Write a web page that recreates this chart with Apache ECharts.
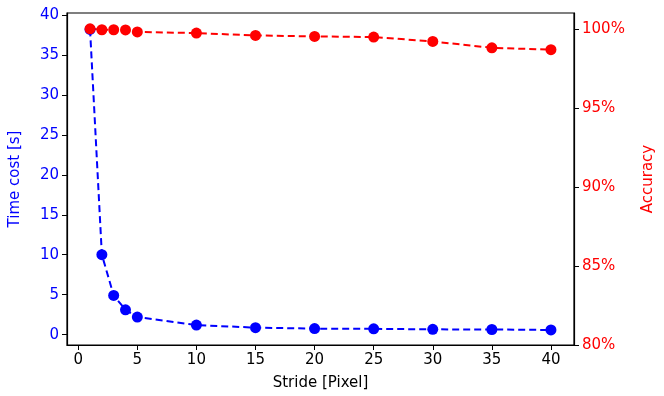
<!DOCTYPE html>
<html>
<head>
<meta charset="utf-8">
<script src="https://cdn.jsdelivr.net/npm/echarts@6/dist/echarts.min.js"></script>
<style>
  html, body { margin: 0; padding: 0; background: #fff; }
  #chart { width: 664px; height: 396px; }
</style>
</head>
<body>
<div id="chart"></div>
<script>
// Data
const strides = [1, 2, 3, 4, 5, 10, 15, 20, 25, 30, 35, 40]
const timeCost = [38.2, 10.0, 4.9, 3.1, 2.2, 1.2, 0.87, 0.75, 0.72, 0.66, 0.64, 0.58]
const accuracy = [1.0, 0.9994, 0.9994, 0.9993, 0.998, 0.9973, 0.9958, 0.9952, 0.9948, 0.992, 0.988, 0.9868]

const xTicks = [0, 5, 10, 15, 20, 25, 30, 35, 40]
const timeTicks = [0, 5, 10, 15, 20, 25, 30, 35, 40]
const accTicks = [0.80, 0.85, 0.90, 0.95, 1.00]

const font = 'DejaVu Sans'
const blue = '#0000ff'
const red = '#ff0000'

const chart = echarts.init(document.getElementById('chart'))

chart.setOption({
  backgroundColor: '#fff',
  animation: false,
  textStyle: { fontFamily: font },
  grid: {
    left: 67,
    right: 83,
    top: 13,
    bottom: 49,
    show: true,
    borderColor: '#000',
    borderWidth: 1.2,
    backgroundColor: 'transparent'
  },
  xAxis: {
    type: 'value',
    min: -0.95,
    max: 41.95,
    name: 'Stride [Pixel]',
    nameLocation: 'middle',
    nameGap: 31,
    nameTextStyle: { color: '#000', fontSize: 15, fontFamily: font },
    axisLine: { show: true, onZero: false, lineStyle: { color: '#000', width: 1.2 } },
    axisTick: { show: true, length: 5, customValues: xTicks, lineStyle: { color: '#000' } },
    axisLabel: { customValues: xTicks, color: '#000', fontSize: 15, margin: 8 },
    splitLine: { show: false }
  },
  yAxis: [
    {
      type: 'value',
      position: 'left',
      min: -1.3,
      max: 40.25,
      name: 'Time cost [s]',
      nameLocation: 'middle',
      nameGap: 44,
      nameTextStyle: { color: blue, fontSize: 15, fontFamily: font },
      axisLine: { show: true, onZero: false, lineStyle: { color: '#000', width: 1.2 } },
      axisTick: { show: true, length: 5, customValues: timeTicks, lineStyle: { color: '#000' } },
      axisLabel: { customValues: timeTicks, color: blue, fontSize: 15, margin: 8 },
      splitLine: { show: false }
    },
    {
      type: 'value',
      position: 'right',
      min: 0.80,
      max: 1.01,
      name: 'Accuracy',
      nameLocation: 'middle',
      nameGap: 67,
      nameTextStyle: { color: red, fontSize: 15, fontFamily: font },
      axisLine: { show: true, onZero: false, lineStyle: { color: '#000', width: 1.2 } },
      axisTick: { show: true, length: 5, customValues: accTicks, lineStyle: { color: '#000' } },
      axisLabel: {
        customValues: accTicks,
        color: red,
        fontSize: 15,
        margin: 8,
        formatter: v => Math.round(v * 100) + '%'
      },
      splitLine: { show: false }
    }
  ],
  series: [
    {
      type: 'line',
      yAxisIndex: 0,
      data: strides.map((s, i) => [s, timeCost[i]]),
      symbol: 'circle',
      symbolSize: 11,
      itemStyle: { color: blue },
      lineStyle: { color: blue, width: 2, type: [7, 4] }
    },
    {
      type: 'line',
      yAxisIndex: 1,
      data: strides.map((s, i) => [s, accuracy[i]]),
      symbol: 'circle',
      symbolSize: 11,
      itemStyle: { color: red },
      lineStyle: { color: red, width: 2, type: [7, 4] }
    }
  ]
})
</script>
</body>
</html>
